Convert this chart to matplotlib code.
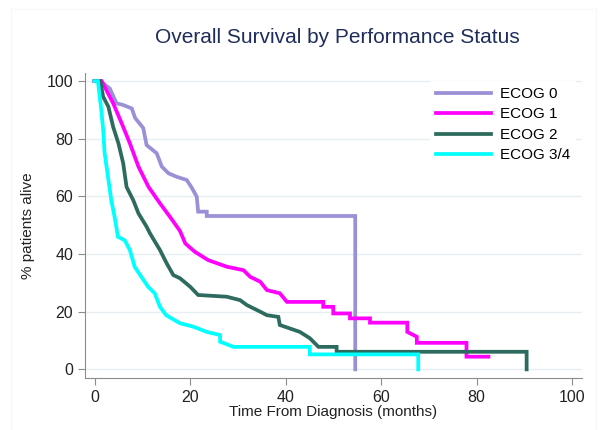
import numpy as np
import matplotlib
matplotlib.use("Agg")
import matplotlib.pyplot as plt
from matplotlib.patches import Rectangle

# survival curves (months, % alive), as drawn vertices
ecog0_t = [0, 1.2, 3.2, 4.6, 6.0, 7.8, 8.5, 10.2, 10.9, 13.0, 14.1, 15.5, 17.2,
           19.3, 20.4, 21.4, 21.7, 23.5, 23.5, 54.6, 54.6]
ecog0_s = [100, 100, 97.4, 92.3, 91.7, 90.5, 87.2, 83.7, 77.8, 75.0, 70.3, 68.0,
           66.8, 65.7, 62.9, 59.9, 54.7, 54.7, 53.2, 53.2, 0]

ecog1_t = [0, 1.5, 3.9, 5.7, 7.4, 9.2, 11.3, 13.7, 15.8, 17.9, 19.0, 21.0, 23.8,
           27.7, 31.2, 32.6, 34.7, 36.1, 38.8, 40.3, 47.9, 47.9, 50.0, 50.0,
           53.5, 53.5, 57.7, 57.7, 65.5, 65.5, 67.5, 67.5, 77.9, 77.9, 82.5]
ecog1_s = [100, 100, 92.3, 85.3, 78.4, 70.3, 63.3, 57.6, 52.9, 48.0, 43.7, 40.8,
           37.9, 35.6, 34.4, 32.1, 30.4, 27.5, 26.4, 23.4, 23.4, 21.7, 21.7, 19.4,
           19.4, 17.7, 17.7, 16.2, 16.2, 13.0, 11.3, 9.2, 9.2, 4.4, 4.4]

ecog2_t = [0, 1.2, 1.8, 2.9, 3.9, 5.0, 6.0, 6.7, 8.1, 9.2, 10.9, 11.6, 13.7,
           15.1, 16.5, 17.9, 20.0, 21.7, 27.7, 30.5, 31.9, 34.7, 36.1, 38.5,
           38.8, 40.9, 43.0, 45.1, 46.9, 50.7, 50.7, 90.5, 90.5]
ecog2_s = [100, 100, 94.6, 91.1, 84.1, 78.4, 71.5, 63.3, 58.7, 54.1, 49.5, 47.2,
           41.4, 36.8, 32.7, 31.6, 28.7, 25.8, 25.2, 24.0, 22.3, 20.0, 18.8,
           18.2, 15.4, 14.2, 13.0, 10.8, 7.8, 7.8, 6.1, 6.1, 0]

ecog34_t = [0, 0.7, 1.4, 1.8, 2.1, 2.8, 3.5, 4.2, 4.9, 6.3, 7.4, 8.4, 9.8,
            11.2, 12.6, 13.7, 15.0, 17.9, 20.7, 23.5, 26.3, 26.3, 29.1, 45.1,
            45.1, 67.8, 67.8]
ecog34_s = [100, 100, 90.2, 83.2, 75.1, 67.0, 58.7, 52.9, 46.0, 44.8, 41.4, 35.6,
            32.1, 28.7, 26.4, 21.7, 18.8, 16.0, 14.8, 13.0, 11.9, 9.6, 7.8, 7.8,
            5.2, 5.2, 0]

labels = ["ECOG 0", "ECOG 1", "ECOG 2", "ECOG 3/4"]
colors = ["#9a90d6", "#ff00ff", "#2e6b5f", "#00ffff"]

plt.rcParams['font.family'] = ['Liberation Sans', 'DejaVu Sans']

fig = plt.figure(figsize=(6.02, 4.30), dpi=100)
# very faint outer frame of the graph region
fig.patches.append(Rectangle((11 / 602, -0.02), 585 / 602, 1.0, transform=fig.transFigure,
                             fill=False, edgecolor="#f6f8f9", lw=1))
ax = fig.add_axes([0.1412, 0.1209, 0.8256, 0.7093])

curves = [(ecog0_t, ecog0_s), (ecog1_t, ecog1_s), (ecog2_t, ecog2_s), (ecog34_t, ecog34_s)]
for (t, s), lab, col in zip(curves, labels, colors):
    ax.plot(t, s, color=col, lw=2.7, label=lab, solid_joinstyle='miter')

ax.set_xlim(-2.0, 102.1)
ax.set_ylim(-3.0, 102.8)
ax.set_xticks(np.arange(0, 101, 20))
ax.set_yticks(np.arange(0, 101, 20))
ax.yaxis.grid(True, color="#e6eef1", lw=1)
ax.set_axisbelow(True)
for side in ["top", "right"]:
    ax.spines[side].set_visible(False)
for side in ["left", "bottom"]:
    ax.spines[side].set_color("#8c8c8c")
ax.tick_params(colors="#8c8c8c", labelcolor="#222222", labelsize=11.5, length=5)

ax.set_xlabel("Time From Diagnosis (months)", fontsize=11, color="#222222", labelpad=0)
ax.set_ylabel("% patients alive", fontsize=11, color="#222222", labelpad=8)

fig.text(0.561, 0.912, "Overall Survival by Performance Status", ha='center', va='center',
         fontsize=15, color="#1f2d5c")

leg = ax.legend(loc='upper right', bbox_to_anchor=(0.995, 0.984), fontsize=11,
                frameon=True, facecolor='white', edgecolor='none', framealpha=1,
                handlelength=3.6, handletextpad=0.6, labelspacing=0.42,
                borderaxespad=0.2, fancybox=False)

fig.savefig("out.png", dpi=100)
